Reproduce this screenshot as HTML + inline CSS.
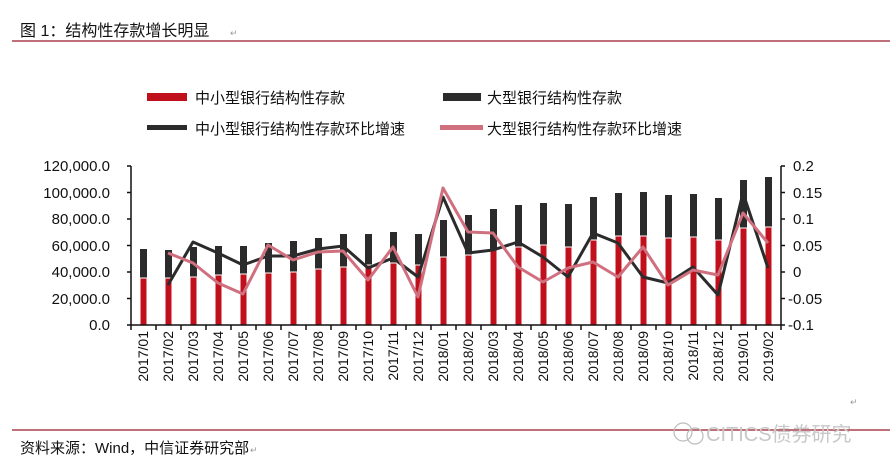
<!DOCTYPE html>
<html><head><meta charset="utf-8"><style>
body{margin:0;background:#fff;}
svg{display:block;font-family:"Liberation Sans","Noto Sans CJK SC",sans-serif;}
</style></head><body>
<svg width="896" height="472" viewBox="0 0 896 472" xmlns="http://www.w3.org/2000/svg">
<rect width="896" height="472" fill="#fff"/>
<text x="20" y="36" font-size="16" fill="#111">图 1：结构性存款增长明显</text>
<text x="230" y="36" font-size="9" fill="#999">↵</text>
<line x1="12" y1="41" x2="890" y2="41" stroke="#9b1b2a" stroke-width="1.2"/>
<rect x="147" y="93" width="40" height="8" fill="#c0101c"/>
<text x="195" y="103" font-size="15" fill="#111">中小型银行结构性存款</text>
<rect x="443" y="93" width="38" height="8" fill="#2b2b2b"/>
<text x="487" y="103" font-size="15" fill="#111">大型银行结构性存款</text>
<rect x="147" y="125" width="40" height="5" fill="#2b2b2b"/>
<text x="195" y="134" font-size="15" fill="#111">中小型银行结构性存款环比增速</text>
<rect x="440" y="125" width="43" height="5" fill="#d0707f"/>
<text x="487" y="134" font-size="15" fill="#111">大型银行结构性存款环比增速</text>
<g font-size="15" fill="#111" text-anchor="end">
<text x="110" y="171">120,000.0</text>
<text x="110" y="198">100,000.0</text>
<text x="110" y="224">80,000.0</text>
<text x="110" y="251">60,000.0</text>
<text x="110" y="277">40,000.0</text>
<text x="110" y="304">20,000.0</text>
<text x="110" y="330">0.0</text>
</g>
<g font-size="15" fill="#111">
<text x="793" y="171">0.2</text>
<text x="793" y="198">0.15</text>
<text x="793" y="224">0.1</text>
<text x="793" y="251">0.05</text>
<text x="793" y="277">0</text>
<text x="788" y="304">-0.05</text>
<text x="788" y="330">-0.1</text>
</g>
<g fill="#2b2b2b">
<rect x="140" y="249" width="7" height="76"/><rect x="165" y="250" width="7" height="75"/><rect x="190" y="247" width="7" height="78"/><rect x="215" y="246" width="7" height="79"/><rect x="240" y="246" width="7" height="79"/><rect x="265" y="243" width="7" height="82"/><rect x="290" y="241" width="7" height="84"/><rect x="315" y="238" width="7" height="87"/><rect x="340" y="234" width="7" height="91"/><rect x="365" y="234" width="7" height="91"/><rect x="390" y="232" width="7" height="93"/><rect x="415" y="234" width="7" height="91"/><rect x="440" y="220" width="7" height="105"/><rect x="465" y="215" width="7" height="110"/><rect x="490" y="209" width="7" height="116"/><rect x="515" y="205" width="7" height="120"/><rect x="540" y="203" width="7" height="122"/><rect x="565" y="204" width="7" height="121"/><rect x="590" y="197" width="7" height="128"/><rect x="615" y="193" width="7" height="132"/><rect x="640" y="192" width="7" height="133"/><rect x="665" y="195" width="7" height="130"/><rect x="690" y="194" width="7" height="131"/><rect x="715" y="198" width="7" height="127"/><rect x="740" y="180" width="7" height="145"/><rect x="765" y="177" width="7" height="148"/>
</g>
<g fill="#c0101c" stroke="#fff" stroke-width="1">
<rect x="140" y="278" width="7" height="47"/><rect x="165" y="278" width="7" height="47"/><rect x="190" y="277" width="7" height="48"/><rect x="215" y="275" width="7" height="50"/><rect x="240" y="274" width="7" height="51"/><rect x="265" y="273" width="7" height="52"/><rect x="290" y="272" width="7" height="53"/><rect x="315" y="269" width="7" height="56"/><rect x="340" y="267" width="7" height="58"/><rect x="365" y="265" width="7" height="60"/><rect x="390" y="263" width="7" height="62"/><rect x="415" y="265" width="7" height="60"/><rect x="440" y="257" width="7" height="68"/><rect x="465" y="255" width="7" height="70"/><rect x="490" y="250" width="7" height="75"/><rect x="515" y="247" width="7" height="78"/><rect x="540" y="245" width="7" height="80"/><rect x="565" y="247" width="7" height="78"/><rect x="590" y="240" width="7" height="85"/><rect x="615" y="236" width="7" height="89"/><rect x="640" y="236" width="7" height="89"/><rect x="665" y="238" width="7" height="87"/><rect x="690" y="237" width="7" height="88"/><rect x="715" y="240" width="7" height="85"/><rect x="740" y="228" width="7" height="97"/><rect x="765" y="227" width="7" height="98"/>
</g>
<polyline fill="none" stroke="#2b2b2b" stroke-width="3" stroke-linejoin="round" points="168,285 193,242 218,253 243,265 268,256 293,256 318,249 343,246 368,268 393,258 418,277 443,197 468,253 493,250 518,242 543,257 568,277 593,233 618,243 643,277 668,283 693,267 718,295 743,193 768,268" />
<polyline fill="none" stroke="#d0707f" stroke-width="3" stroke-linejoin="round" points="168,253 193,263 218,283 243,294 268,245 293,260 318,252 343,251 368,280 393,247 418,297 443,188 468,232 493,233 518,267 543,282 568,268 593,262 618,277 643,247 668,285 693,270 718,275 743,213 768,243"/>
<g stroke="#111" stroke-width="1.5" fill="none">
<line x1="131" y1="166" x2="131" y2="325"/>
<line x1="781" y1="166" x2="781" y2="325"/>
<line x1="131" y1="325" x2="781" y2="325"/>
<path d="M127 166H131M127 192.5H131M127 219H131M127 245.5H131M127 272H131M127 298.5H131M127 325H131"/>
<path d="M781 166H785M781 192.5H785M781 219H785M781 245.5H785M781 272H785M781 298.5H785M781 325H785"/>
<path d="M131 325V330M156 325V330M181 325V330M206 325V330M231 325V330M256 325V330M281 325V330M306 325V330M331 325V330M356 325V330M381 325V330M406 325V330M431 325V330M456 325V330M481 325V330M506 325V330M531 325V330M556 325V330M581 325V330M606 325V330M631 325V330M656 325V330M681 325V330M706 325V330M731 325V330M756 325V330M781 325V330"/>
</g>
<g font-size="14" fill="#111" text-anchor="end">
<text transform="translate(148,331) rotate(-90)">2017/01</text>
<text transform="translate(173,331) rotate(-90)">2017/02</text>
<text transform="translate(198,331) rotate(-90)">2017/03</text>
<text transform="translate(223,331) rotate(-90)">2017/04</text>
<text transform="translate(248,331) rotate(-90)">2017/05</text>
<text transform="translate(273,331) rotate(-90)">2017/06</text>
<text transform="translate(298,331) rotate(-90)">2017/07</text>
<text transform="translate(323,331) rotate(-90)">2017/08</text>
<text transform="translate(348,331) rotate(-90)">2017/09</text>
<text transform="translate(373,331) rotate(-90)">2017/10</text>
<text transform="translate(398,331) rotate(-90)">2017/11</text>
<text transform="translate(423,331) rotate(-90)">2017/12</text>
<text transform="translate(448,331) rotate(-90)">2018/01</text>
<text transform="translate(473,331) rotate(-90)">2018/02</text>
<text transform="translate(498,331) rotate(-90)">2018/03</text>
<text transform="translate(523,331) rotate(-90)">2018/04</text>
<text transform="translate(548,331) rotate(-90)">2018/05</text>
<text transform="translate(573,331) rotate(-90)">2018/06</text>
<text transform="translate(598,331) rotate(-90)">2018/07</text>
<text transform="translate(623,331) rotate(-90)">2018/08</text>
<text transform="translate(648,331) rotate(-90)">2018/09</text>
<text transform="translate(673,331) rotate(-90)">2018/10</text>
<text transform="translate(698,331) rotate(-90)">2018/11</text>
<text transform="translate(723,331) rotate(-90)">2018/12</text>
<text transform="translate(748,331) rotate(-90)">2019/01</text>
<text transform="translate(773,331) rotate(-90)">2019/02</text>
</g>
<text x="850" y="405" font-size="9" fill="#999">↵</text>
<line x1="12" y1="430" x2="890" y2="430" stroke="#9b1b2a" stroke-width="1.2"/>
<text x="20" y="453" font-size="15" fill="#111">资料来源：Wind，中信证券研究部</text>
<text x="250" y="453" font-size="9" fill="#999">↵</text>
<circle cx="683" cy="432" r="9" fill="none" stroke="#bbb" stroke-width="1.2"/>
<circle cx="695" cy="436" r="8" fill="none" stroke="#bbb" stroke-width="1.2"/>
<text x="706" y="441" font-size="20" fill="#c8c8c8">CITICS债券研究</text>
</svg>
</body></html>
